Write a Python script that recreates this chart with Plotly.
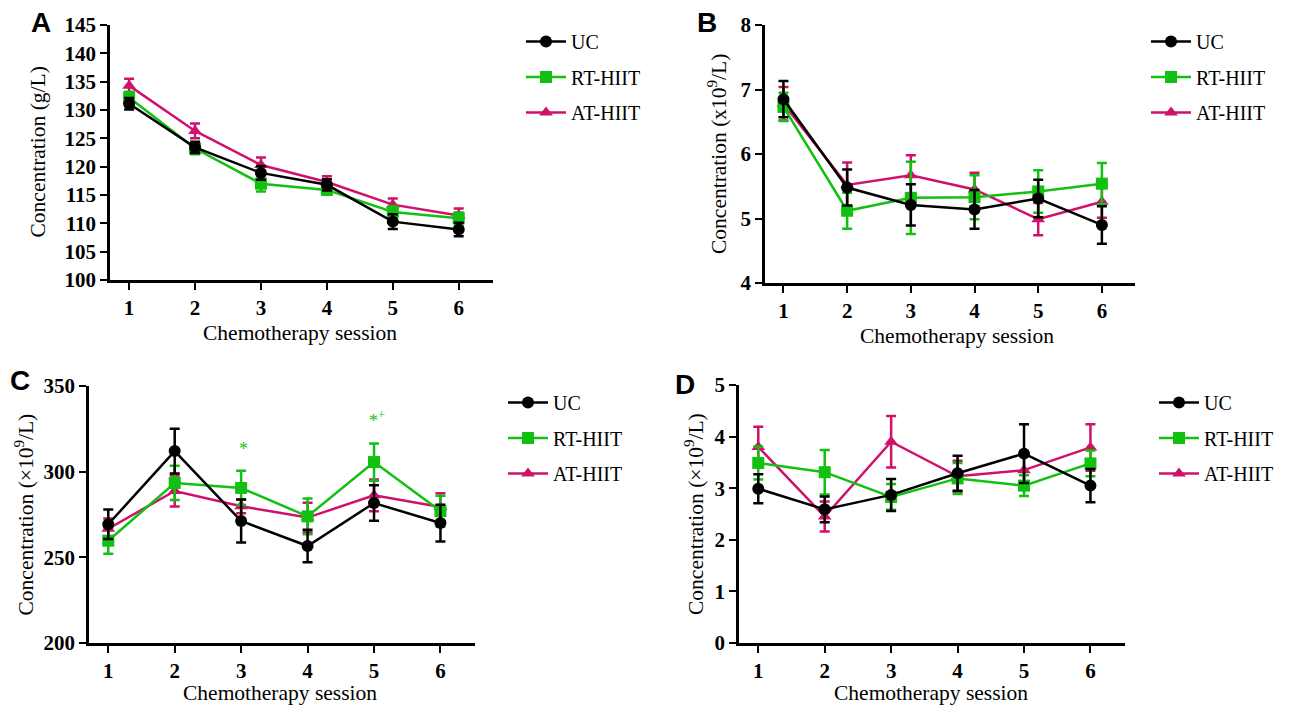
import plotly.graph_objects as go

sessions = [1, 2, 3, 4, 5, 6]
series_names = ["UC", "RT-HIIT", "AT-HIIT"]

# Panel A: Concentration (g/L)
a_uc = [131.1, 123.4, 118.9, 116.8, 110.3, 108.9]
a_uc_err = [1.0, 1.0, 1.2, 1.0, 1.3, 1.2]
a_rt = [132.2, 123.2, 117.0, 115.9, 112.0, 110.9]
a_rt_err = [1.0, 1.0, 1.4, 0.8, 1.0, 1.0]
a_at = [134.3, 126.3, 120.3, 117.3, 113.3, 111.4]
a_at_err = [1.2, 1.3, 1.3, 1.0, 1.1, 1.2]

# Panel B: Concentration (x10^9/L)
b_uc = [6.85, 5.48, 5.21, 5.14, 5.31, 4.90]
b_uc_err = [0.28, 0.28, 0.32, 0.30, 0.29, 0.29]
b_rt = [6.73, 5.12, 5.32, 5.33, 5.42, 5.54]
b_rt_err = [0.22, 0.28, 0.56, 0.34, 0.33, 0.32]
b_at = [6.78, 5.52, 5.67, 5.45, 4.99, 5.26]
b_at_err = [0.26, 0.35, 0.31, 0.26, 0.25, 0.25]

# Panel C: Concentration (x10^9/L)
c_uc = [269.3, 312.0, 271.2, 256.6, 281.7, 270.0]
c_uc_err = [8.6, 13.0, 12.5, 9.5, 10.3, 10.7]
c_rt = [259.7, 293.4, 290.5, 273.9, 305.6, 277.0]
c_rt_err = [7.6, 10.0, 10.0, 10.5, 10.9, 9.0]
c_at = [266.7, 288.7, 279.8, 273.2, 286.2, 279.4]
c_at_err = [6.0, 9.0, 4.0, 8.6, 9.3, 8.0]
c_marks = ["", "", "*", "", "*<sup>+</sup>", ""]

# Panel D: Concentration (x10^9/L)
d_uc = [2.99, 2.59, 2.87, 3.29, 3.67, 3.05]
d_uc_err = [0.28, 0.25, 0.31, 0.34, 0.57, 0.32]
d_rt = [3.49, 3.31, 2.83, 3.19, 3.05, 3.48]
d_rt_err = [0.32, 0.43, 0.25, 0.30, 0.20, 0.25]
d_at = [3.80, 2.45, 3.90, 3.23, 3.35, 3.79]
d_at_err = [0.39, 0.29, 0.50, 0.30, 0.30, 0.45]

panels = [
    dict(letter="A", ytitle="Concentration (g/L)", yrange=[100, 145], dtick=5,
         data=[(a_uc, a_uc_err), (a_rt, a_rt_err), (a_at, a_at_err)]),
    dict(letter="B", ytitle="Concentration (x10<sup>9</sup>/L)", yrange=[4, 8], dtick=1,
         data=[(b_uc, b_uc_err), (b_rt, b_rt_err), (b_at, b_at_err)]),
    dict(letter="C", ytitle="Concentration (×10<sup>9</sup>/L)", yrange=[200, 350], dtick=50,
         data=[(c_uc, c_uc_err), (c_rt, c_rt_err), (c_at, c_at_err)]),
    dict(letter="D", ytitle="Concentration (×10<sup>9</sup>/L)", yrange=[0, 5], dtick=1,
         data=[(d_uc, d_uc_err), (d_rt, d_rt_err), (d_at, d_at_err)]),
]

W, H = 1289, 710
OFF = 8  # page body margin
def px(x):
    return (x - OFF) / W
def py(y):
    return 1 - (y - OFF) / H

# pixel boxes: (left, right, top, bottom)
boxes = [(110, 493, 25, 280), (765, 1135, 25, 283), (89, 475, 386, 643), (739, 1125, 385, 643)]
ytitle_x = [37, 718, 24, 694]
xtitle_pos = [(300, 333), (957, 336), (280, 693), (931, 693)]
letter_pos = [(41, 23), (707, 23), (20, 380), (685, 384)]
legend_pos = [(521, 22), (1146, 22), (503, 383), (1154, 383)]

colors = ["#000000", "#11C011", "#D0116B"]
symbols = ["circle", "square", "triangle-up"]
draw_order = [2, 1, 0]

SERIF = "Liberation Serif"
fig = go.Figure()
layout = dict(width=W, height=H, margin=dict(l=0, r=0, t=0, b=0, autoexpand=False),
              plot_bgcolor="white", paper_bgcolor="white", showlegend=True)
annotations = []

for i, p in enumerate(panels):
    n = "" if i == 0 else str(i + 1)
    left, right, top, bottom = boxes[i]
    lg = "legend" if i == 0 else "legend%d" % (i + 1)
    for k in draw_order:
        vals, errs = p["data"][k]
        fig.add_trace(go.Scatter(
            x=sessions, y=vals, name=series_names[k], mode="lines+markers",
            xaxis="x" + n, yaxis="y" + n, legend=lg, legendgroup="%s_%d" % (lg, k),
            legendrank=k + 1,
            line=dict(color=colors[k], width=2.5),
            marker=dict(symbol=symbols[k], size=12, color=colors[k]),
            error_y=dict(type="data", array=errs, visible=True, color=colors[k],
                         thickness=2.5, width=5),
        ))
    axis_common = dict(showline=True, linecolor="black", linewidth=2.5, ticks="outside",
                       tickwidth=2.2, ticklen=7, tickcolor="black", showgrid=False,
                       zeroline=False, automargin=False,
                       tickfont=dict(family=SERIF, size=21, color="black", weight="bold"))
    layout["xaxis" + n] = dict(axis_common, domain=[px(left), px(right)], range=[0.71, 6.52],
                               tickvals=sessions, anchor="y" + n)
    layout["yaxis" + n] = dict(axis_common, domain=[py(bottom), py(top)], range=p["yrange"],
                               dtick=p["dtick"], tick0=p["yrange"][0], anchor="x" + n)
    lx, ly = legend_pos[i]
    layout[lg] = dict(x=px(lx), y=py(ly), xanchor="left", yanchor="top",
                      font=dict(family=SERIF, size=20, color="black"),
                      tracegroupgap=6.5, bgcolor="rgba(0,0,0,0)", itemwidth=40)
    annotations.append(dict(text=p["ytitle"], x=px(ytitle_x[i]), y=py((top + bottom) / 2),
                            xref="paper", yref="paper", textangle=-90, showarrow=False,
                            xanchor="center", yanchor="middle",
                            font=dict(family=SERIF, size=21.5, color="black")))
    xt, yt = xtitle_pos[i]
    annotations.append(dict(text="Chemotherapy session", x=px(xt), y=py(yt), xref="paper",
                            yref="paper", showarrow=False, xanchor="center", yanchor="middle",
                            font=dict(family=SERIF, size=21.5, color="black")))
    lx2, ly2 = letter_pos[i]
    annotations.append(dict(text="<b>%s</b>" % p["letter"], x=px(lx2), y=py(ly2), xref="paper",
                            yref="paper", showarrow=False, xanchor="center", yanchor="middle",
                            font=dict(family="Liberation Sans", size=28, color="black")))

# significance marks on panel C (RT-HIIT)
for j, m in enumerate(c_marks):
    if m:
        annotations.append(dict(text=m, x=sessions[j] + 0.04, y=c_rt[j] + c_rt_err[j] + 6,
                                xref="x3", yref="y3", showarrow=False, xanchor="center",
                                yanchor="bottom",
                                font=dict(family=SERIF, size=18, color="#11C011")))

layout["annotations"] = annotations
fig.update_layout(**layout)
fig.write_html("out.html")
